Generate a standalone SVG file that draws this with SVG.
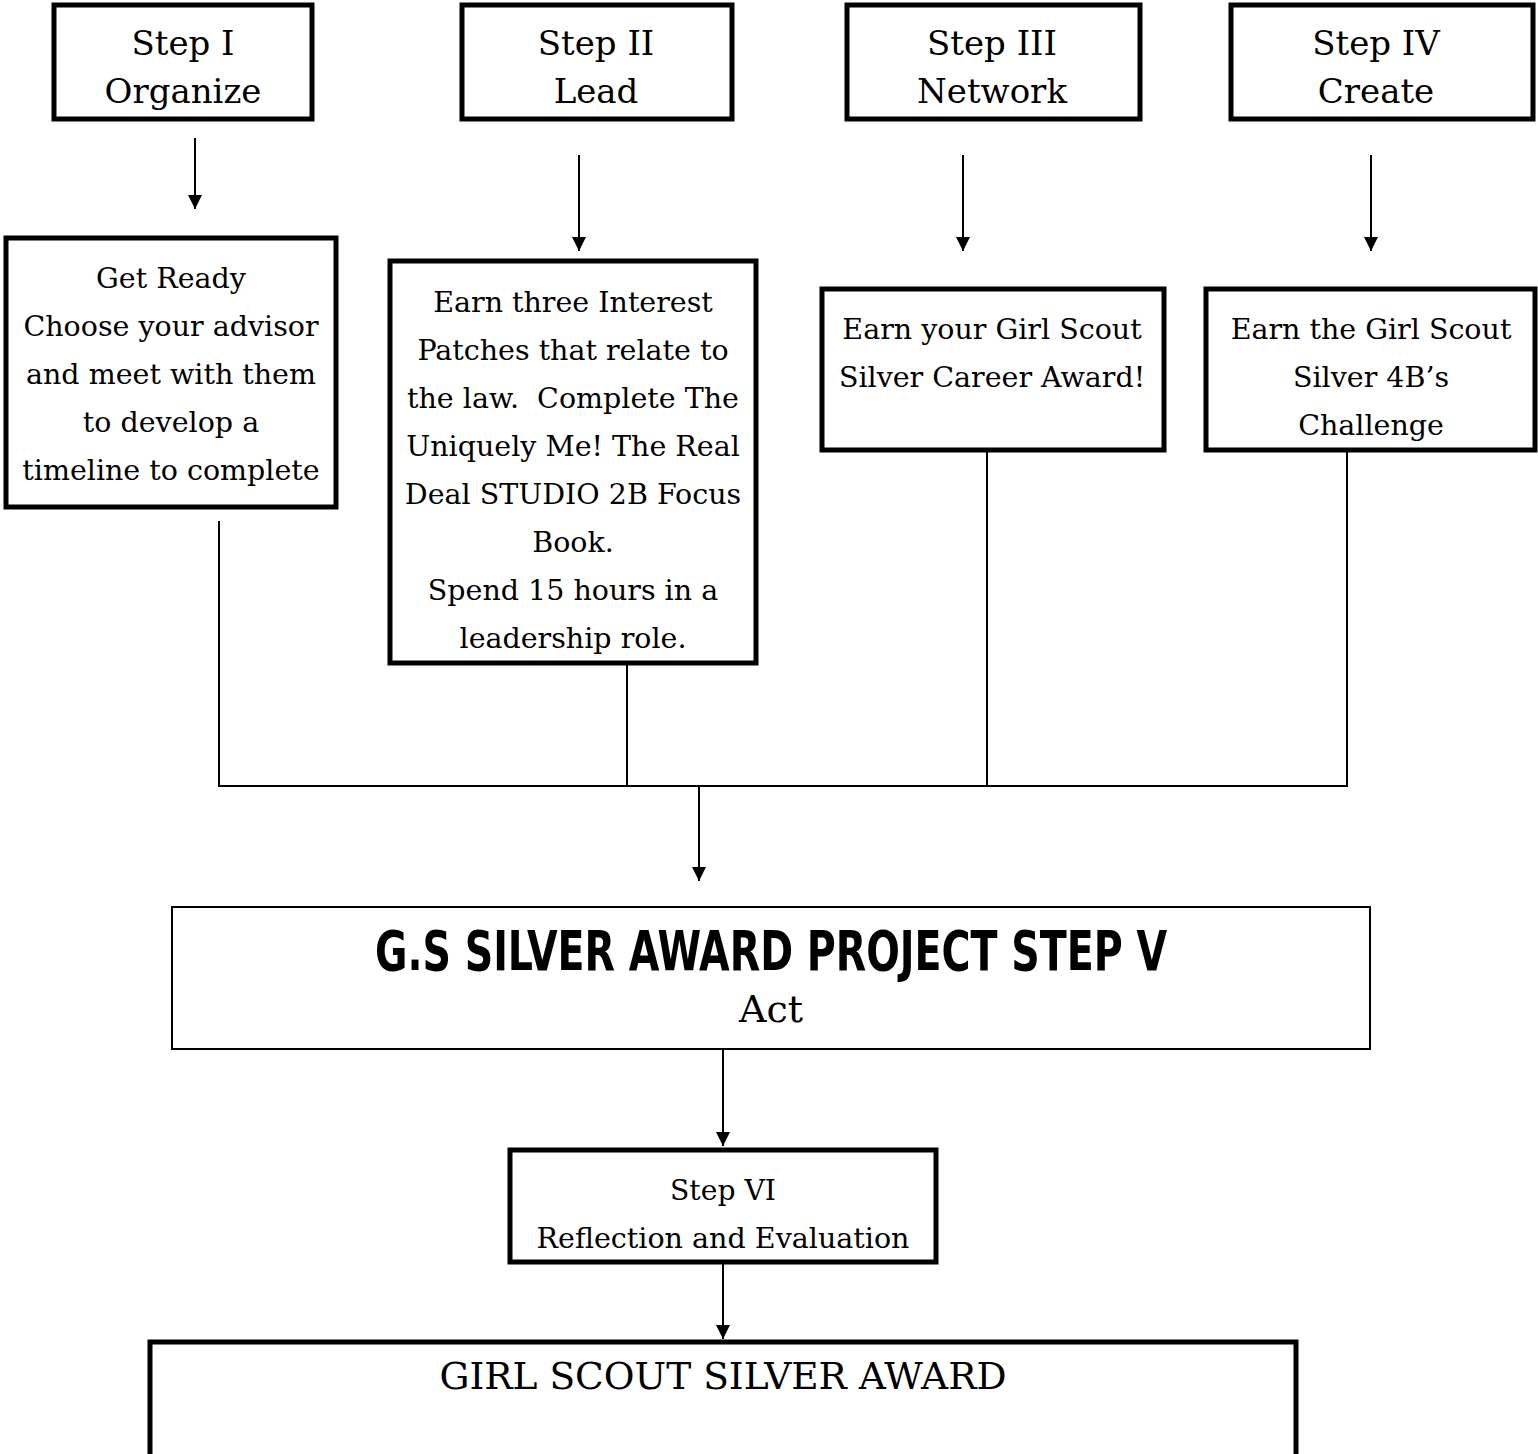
<svg xmlns="http://www.w3.org/2000/svg" width="1538" height="1454" viewBox="0 0 1538 1454">
<style>
.box{fill:#fff;stroke:#000;stroke-width:5}
.thin{fill:#fff;stroke:#000;stroke-width:2}
.t{font-family:"DejaVu Serif","Liberation Serif",serif;fill:#000;text-anchor:middle}
.h{font-size:34px}
.b{font-size:28.5px}
.title{font-family:"DejaVu Sans Condensed","DejaVu Sans","Liberation Sans",sans-serif;font-weight:bold;font-stretch:condensed;font-size:56px;fill:#000;text-anchor:middle}
.c{fill:none;stroke:#000;stroke-width:2}
</style>
<defs>
<marker id="ah" viewBox="0 0 10 10" refX="10" refY="5" markerWidth="18" markerHeight="14" markerUnits="userSpaceOnUse" orient="auto">
<path d="M0,0 L10,5 L0,10 z" fill="#000"/>
</marker>
</defs>
<g id="connectors">
<line class="c" x1="195" y1="138" x2="195" y2="209" marker-end="url(#ah)"/>
<line class="c" x1="579" y1="155" x2="579" y2="251" marker-end="url(#ah)"/>
<line class="c" x1="963" y1="155" x2="963" y2="251" marker-end="url(#ah)"/>
<line class="c" x1="1371" y1="155" x2="1371" y2="251" marker-end="url(#ah)"/>
<polyline class="c" points="219,521 219,786 1347,786 1347,452"/>
<line class="c" x1="627" y1="665" x2="627" y2="786"/>
<line class="c" x1="987" y1="452" x2="987" y2="786"/>
<line class="c" x1="699" y1="786" x2="699" y2="881" marker-end="url(#ah)"/>
<line class="c" x1="723" y1="1050" x2="723" y2="1146" marker-end="url(#ah)"/>
<line class="c" x1="723" y1="1264" x2="723" y2="1339" marker-end="url(#ah)"/>
</g>
<g id="step1">
<rect class="box" x="54" y="5" width="258" height="114"/>
<text class="t h" x="183" y="55">Step I</text>
<text class="t h" x="183" y="103">Organize</text>
</g>
<g id="step2">
<rect class="box" x="462" y="5" width="270" height="114"/>
<text class="t h" x="596" y="55">Step II</text>
<text class="t h" x="596" y="103">Lead</text>
</g>
<g id="step3">
<rect class="box" x="847" y="5" width="293" height="114"/>
<text class="t h" x="992" y="55">Step III</text>
<text class="t h" x="992" y="103">Network</text>
</g>
<g id="step4">
<rect class="box" x="1231" y="5" width="302" height="114"/>
<text class="t h" x="1376" y="55">Step IV</text>
<text class="t h" x="1376" y="103">Create</text>
</g>
<g id="getready">
<rect class="box" x="6" y="238" width="330" height="269"/>
<text class="t b" x="171" y="288">Get Ready</text>
<text class="t b" x="171" y="336">Choose your advisor</text>
<text class="t b" x="171" y="384">and meet with them</text>
<text class="t b" x="171" y="432">to develop a</text>
<text class="t b" x="171" y="480">timeline to complete</text>
</g>
<g id="earnthree">
<rect class="box" x="390" y="261" width="366" height="402"/>
<text class="t b" x="573" y="312">Earn three Interest</text>
<text class="t b" x="573" y="360">Patches that relate to</text>
<text class="t b" x="573" y="408" xml:space="preserve">the law.  Complete The</text>
<text class="t b" x="573" y="456">Uniquely Me! The Real</text>
<text class="t b" x="573" y="504">Deal STUDIO 2B Focus</text>
<text class="t b" x="573" y="552">Book.</text>
<text class="t b" x="573" y="600">Spend 15 hours in a</text>
<text class="t b" x="573" y="648">leadership role.</text>
</g>
<g id="earnyour">
<rect class="box" x="822" y="289" width="342" height="161"/>
<text class="t b" x="992" y="339">Earn your Girl Scout</text>
<text class="t b" x="992" y="387">Silver Career Award!</text>
</g>
<g id="earnthe">
<rect class="box" x="1206" y="289" width="329" height="161"/>
<text class="t b" x="1371" y="339">Earn the Girl Scout</text>
<text class="t b" x="1371" y="387">Silver 4B’s</text>
<text class="t b" x="1371" y="435">Challenge</text>
</g>
<g id="step5">
<rect class="thin" x="172" y="907" width="1198" height="142"/>
<text class="title" x="771" y="970" textLength="792" lengthAdjust="spacingAndGlyphs">G.S SILVER AWARD PROJECT STEP V</text>
<text class="t" x="771" y="1022" font-size="38">Act</text>
</g>
<g id="step6">
<rect class="box" x="510" y="1150" width="426" height="112"/>
<text class="t b" x="723" y="1200" textLength="106" lengthAdjust="spacingAndGlyphs">Step VI</text>
<text class="t b" x="723" y="1248" textLength="373" lengthAdjust="spacingAndGlyphs">Reflection and Evaluation</text>
</g>
<g id="award">
<rect class="box" x="150" y="1342" width="1146" height="120"/>
<text class="t" x="723" y="1389" font-size="38" textLength="567" lengthAdjust="spacingAndGlyphs">GIRL SCOUT SILVER AWARD</text>
</g>
</svg>
